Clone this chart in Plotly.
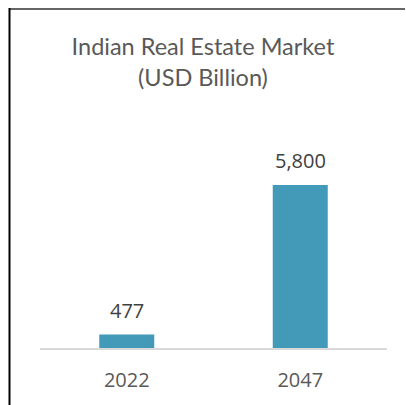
import plotly.graph_objects as go

years = ['2022', '2047']
market = [477, 5800]
labels = ['477', '5,800']

W = 406; H = 405
ml = 40; mr = 19; mt = 130; mb = 57
plotW = W - ml - mr; plotH = H - mt - mb
ymax = 5800 * plotH / 163


def px_x(p):
    return (p - ml) / plotW


def px_y(p):
    return (H - mb - p) / plotH


fig = go.Figure()
fig.add_trace(go.Bar(x=years, y=market, marker=dict(color='#4399b8', line=dict(width=0)),
                     width=0.317, hoverinfo='skip'))

# value labels; x given as category index (year strings would be read as indices)
for i, (y, t) in enumerate(zip(market, labels)):
    fig.add_annotation(x=i, y=y, text=t, showarrow=False, yanchor='bottom', yshift=9,
                       font=dict(family='Open Sans', size=20, color='#404040'))

# frame: top edge and black left edge
fig.add_shape(type='rect', xref='paper', yref='paper', layer='above',
              x0=px_x(9), x1=px_x(W - 1), y0=px_y(10), y1=px_y(8),
              fillcolor='#666666', line=dict(width=0))
fig.add_shape(type='rect', xref='paper', yref='paper', layer='above',
              x0=px_x(8.5), x1=px_x(10.5), y0=px_y(H + 5), y1=px_y(8),
              fillcolor='black', line=dict(width=0))

fig.update_layout(
    width=W, height=H, margin=dict(l=ml, r=mr, t=mt, b=mb),
    paper_bgcolor='white', plot_bgcolor='white', showlegend=False,
    title=dict(text='Indian Real Estate Market<br>(USD Billion)', x=0.5, xanchor='center',
               y=1 - 55 / H, yanchor='middle',
               font=dict(family='Lato', size=23.5, color='#595959')),
)
fig.update_xaxes(type='category', showline=True, linecolor='#d9d9d9', linewidth=1.5, showgrid=False,
                 ticks='', ticklabelstandoff=13,
                 tickfont=dict(family='Open Sans', size=20, color='#595959'))
fig.update_yaxes(visible=False, range=[0, ymax], showgrid=False)

fig.write_html('out.html', config={'displayModeBar': False},
               post_script="document.body.style.margin='0';")
